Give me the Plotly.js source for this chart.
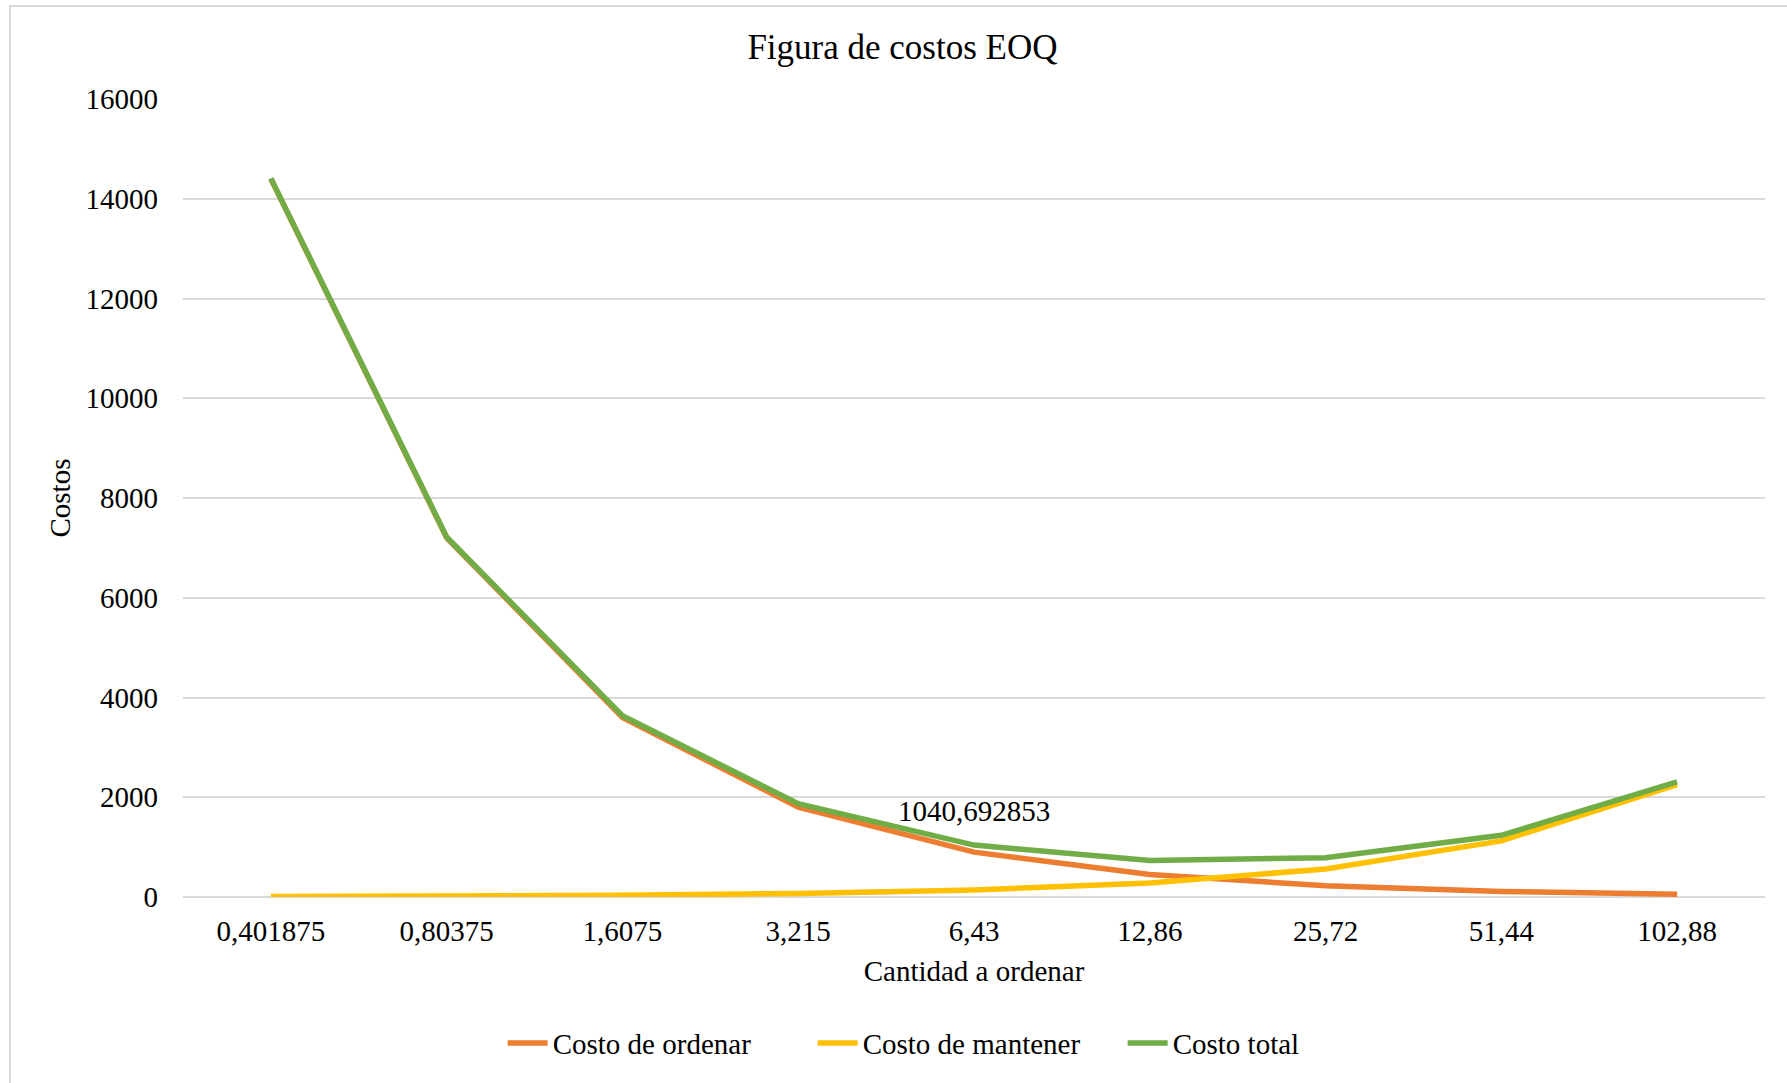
<!DOCTYPE html>
<html>
<head>
<meta charset="utf-8">
<script src="https://cdn.plot.ly/plotly-3.0.1.min.js"></script>
<style>
  html, body { margin: 0; padding: 0; background: #ffffff; overflow: hidden; }
  #frame { position: absolute; left: 9px; top: 5px; width: 1820px; height: 1120px; border: 2px solid #d9d9d9; box-sizing: border-box; }
  #chart { position: absolute; left: 0; top: 0; width: 1787px; height: 1083px; }
</style>
</head>
<body>
<div id="frame"></div>
<div id="chart"></div>
<script>
const categories = ['0,401875', '0,80375', '1,6075', '3,215', '6,43', '12,86', '25,72', '51,44', '102,88'];
const costoOrdenar = [14400, 7200, 3600, 1800, 900, 450, 225, 112.5, 56.25];
const costoMantener = [8.79, 17.59, 35.17, 70.35, 140.69, 281.39, 562.77, 1125.54, 2251.09];
const costoTotal = [14408.79, 7217.59, 3635.17, 1870.35, 1040.692853, 731.39, 787.77, 1237.54, 2307.34];
const seriesNames = ['Costo de ordenar', 'Costo de mantener', 'Costo total'];
const labelIndex = 4;

const font = 'Liberation Serif, Times New Roman, serif';
const colors = ['#ED7D31', '#FFC000', '#70AD47'];
const data = [costoOrdenar, costoMantener, costoTotal].map((vals, i) => ({
  type: 'scatter', mode: 'lines', x: categories, y: vals, name: seriesNames[i],
  line: { color: colors[i], width: 5.5 }, hoverinfo: 'x+y'
}));

const layout = {
  width: 1787, height: 1083,
  paper_bgcolor: 'rgba(0,0,0,0)', plot_bgcolor: 'rgba(0,0,0,0)',
  margin: { l: 183, r: 22, t: 99, b: 186 },
  font: { family: font, size: 29, color: '#000000' },
  title: { text: 'Figura de costos EOQ', font: { family: font, size: 35, color: '#000' },
           x: 0.505, xanchor: 'center', y: 1 - 47 / 1083, yanchor: 'middle', xref: 'container', yref: 'container' },
  xaxis: {
    type: 'category', range: [-0.5, 8.5], showgrid: false, zeroline: false,
    showline: false, ticks: '', ticklabelstandoff: 14,
    tickfont: { family: font, size: 29, color: '#000' },
    title: { text: 'Cantidad a ordenar', font: { family: font, size: 29, color: '#000' }, standoff: 14 }
  },
  yaxis: {
    range: [0, 16000], dtick: 2000, tickformat: 'd', showgrid: true, gridcolor: '#d9d9d9', gridwidth: 2,
    zeroline: true, zerolinecolor: '#d9d9d9', zerolinewidth: 2, showline: false, ticks: '',
    ticklabelstandoff: 24, tickfont: { family: font, size: 29, color: '#000' },
    title: { text: 'Costos', font: { family: font, size: 29, color: '#000' }, standoff: 6 }
  },
  showlegend: true,
  legend: { orientation: 'h', x: 0.496, xanchor: 'center', y: -0.183, yanchor: 'middle',
            font: { family: font, size: 29, color: '#000' }, itemwidth: 40,
            entrywidth: 255, entrywidthmode: 'pixels' },
  annotations: [{
    x: categories[labelIndex], y: costoTotal[labelIndex], xref: 'x', yref: 'y',
    text: String(costoTotal[labelIndex]).replace('.', ','), showarrow: false,
    yshift: 34, font: { family: font, size: 29, color: '#000' }
  }]
};

Plotly.newPlot('chart', data, layout, { displayModeBar: false, staticPlot: true });
</script>
</body>
</html>
